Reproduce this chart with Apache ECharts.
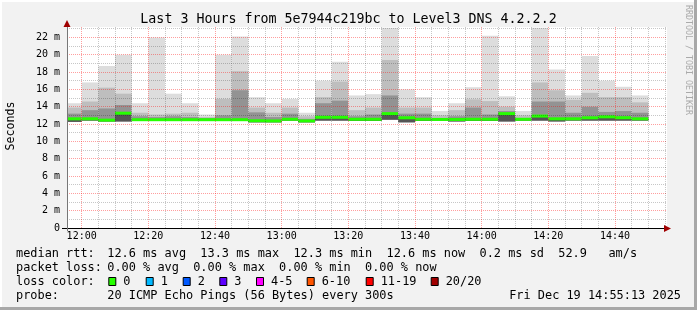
<!DOCTYPE html>
<html>
<head>
<meta charset="utf-8">
<script src="https://cdn.jsdelivr.net/npm/echarts@6/dist/echarts.min.js"></script>
<style>
html,body{margin:0;padding:0;background:#f2f2f2;}
#chart{width:697px;height:310px;}
</style>
</head>
<body>
<div id="chart"></div>
<script>
// ---- data (5-minute steps, values in ms) ----
var barStart = ['11:55','12:00','12:05','12:10','12:15','12:20','12:25','12:30','12:35','12:40',
                '12:45','12:50','12:55','13:00','13:05','13:10','13:15','13:20','13:25','13:30',
                '13:35','13:40','13:45','13:50','13:55','14:00','14:05','14:10','14:15','14:20',
                '14:25','14:30','14:35','14:40','14:45'];
var maxV = [14.4,16.8,18.7,20.0,14.4,22.0,15.5,14.4,13.1,20.0,22.1,15.1,14.4,14.9,13.3,17.0,19.2,15.3,15.45,23.1,
            16.0,15.1,13.5,14.4,16.25,22.2,15.2,13.5,23.1,18.3,15.3,19.85,17.0,16.3,15.3];
var up1V = [13.9,14.6,16.2,15.5,13.3,13.1,13.2,13.3,12.8,14.9,18.1,13.9,13.3,13.9,12.9,15.1,16.9,13.6,13.9,19.4,
            13.9,13.9,13.0,13.6,14.85,14.65,14.0,13.0,16.8,15.9,14.8,15.6,15.1,15.1,14.5];
var up2V = [13.2,13.6,13.8,14.2,12.9,12.8,12.9,12.8,12.7,13.0,15.9,13.35,12.8,13.2,12.6,14.4,14.7,12.9,13.1,15.3,
            13.2,13.2,12.7,12.9,13.9,13.1,13.5,12.7,14.6,14.6,13.3,14.0,13.4,13.5,13.3];
var medV = [12.6,12.6,12.45,13.25,12.5,12.5,12.5,12.5,12.5,12.5,12.5,12.38,12.36,12.55,12.36,12.78,12.78,12.55,12.55,13.2,
            12.72,12.55,12.53,12.53,12.55,12.55,13.2,12.55,12.92,12.6,12.6,12.72,12.83,12.73,12.6];
var minV = [12.25,12.4,12.3,12.3,12.35,12.4,12.35,12.35,12.4,12.35,12.4,12.2,12.2,12.4,12.2,12.4,12.4,12.35,12.35,12.5,
            12.2,12.35,12.4,12.3,12.35,12.35,12.3,12.4,12.4,12.3,12.4,12.4,12.4,12.4,12.4];
var stepMin = 5;
var viewStart = '11:55:36', viewEnd = '14:55:36';

var lossLabels = ['0','1','2','3','4-5','6-10','11-19','20/20'];
var lossColors = ['#26ff00','#00b8ff','#0059ff','#5e00ff','#ff00ff','#ff5500','#ff0000','#a10000'];

var titleText = 'Last 3 Hours from 5e7944c219bc to Level3 DNS 4.2.2.2';
var rttLine = 'median rtt:';
var rttVals = '12.6 ms avg  13.3 ms max  12.3 ms min  12.6 ms now  0.2 ms sd  52.9   am/s';
var lossLine = 'packet loss:';
var lossVals = '0.00 % avg  0.00 % max  0.00 % min  0.00 % now';
var colorLine = 'loss color:';
var probeLine = 'probe:';
var probeVals = '20 ICMP Echo Pings (56 Bytes) every 300s';
var dateText = 'Fri Dec 19 14:55:13 2025';

// ---- helpers ----
function toMin(s){ var p=s.split(':'); return (+p[0]-12)*60 + (+p[1]) + (p[2]?(+p[2])/60:0); }
function fmt(m){ var t=Math.round(m)+720; var h=Math.floor(t/60), mm=t%60; return (h<10?'0':'')+h+':'+(mm<10?'0':'')+mm; }

var data = barStart.map(function(s,i){
  var st = toMin(s);
  return [st, st+stepMin, minV[i], up2V[i], up1V[i], maxV[i], medV[i]];
});

var MONO = '"DejaVu Sans Mono", monospace';
var chart = echarts.init(document.getElementById('chart'), null, {renderer:'canvas'});

function band(api, params, x0, x1, lo, hi, color){
  var p0 = api.coord([x0, hi]), p1 = api.coord([x1, lo]);
  var shape = echarts.graphic.clipRectByRect(
    {x:p0[0], y:p0[1], width:p1[0]-p0[0], height:p1[1]-p0[1]},
    {x:params.coordSys.x, y:params.coordSys.y, width:params.coordSys.width, height:params.coordSys.height});
  if(!shape) return null;
  return {type:'rect', shape:shape, style:{fill:color}};
}

function renderItem(params, api){
  var x0=api.value(0), x1=api.value(1);
  var mn=api.value(2), u2=api.value(3), u1=api.value(4), mx=api.value(5), md=api.value(6);
  var ch = [];
  var b;
  b = band(api, params, x0, x1, mn, mx, '#dddddd'); if(b) ch.push(b);
  b = band(api, params, x0, x1, mn, u1, '#bebebe'); if(b) ch.push(b);
  b = band(api, params, x0, x1, mn, u2, '#939393'); if(b) ch.push(b);
  b = band(api, params, x0, x1, mn, md, '#555555'); if(b) ch.push(b);
  // median line, 3px
  var pa = api.coord([x0, md]), pb = api.coord([x1, md]);
  var ms = echarts.graphic.clipRectByRect(
    {x:pa[0], y:pa[1]-1.5, width:pb[0]-pa[0], height:3},
    {x:params.coordSys.x, y:params.coordSys.y, width:params.coordSys.width, height:params.coordSys.height});
  if(ms) ch.push({type:'rect', shape:ms, style:{fill:lossColors[0]}});
  return {type:'group', children:ch};
}

var gridL=67, gridR=667, gridT=27, gridB=228;
var lx = 16, vx = 107.3;
var boxX = [108.3,145.7,182.7,219.3,256,306.7,365.7,430.7];
var graphics = [
  {type:'rect', shape:{x:0,y:0,width:697,height:2}, style:{fill:'#ffffff'}, z:0, silent:true},
  {type:'rect', shape:{x:0,y:0,width:2,height:310}, style:{fill:'#ffffff'}, z:0, silent:true},
  {type:'rect', shape:{x:0,y:307,width:697,height:3}, style:{fill:'#a8a8a8'}, z:0, silent:true},
  {type:'rect', shape:{x:694,y:0,width:3,height:310}, style:{fill:'#a8a8a8'}, z:0, silent:true},
  // arrows
  {type:'polygon', shape:{points:[[664,225],[671,228.5],[664,232]]}, style:{fill:'#a00000'}, z:10},
  {type:'polygon', shape:{points:[[63.5,27],[67,20],[70.5,27]]}, style:{fill:'#a00000'}, z:10},
  {type:'line', shape:{x1:62,y1:228.5,x2:665,y2:228.5}, style:{stroke:'#000',lineWidth:1}, z:9},
  {type:'line', shape:{x1:67.5,y1:27,x2:67.5,y2:231}, style:{stroke:'#777',lineWidth:1}, z:9},
  // title & unit & watermark
  {type:'text', x:348.5, y:19.5, style:{text:titleText, font:'13.3px '+MONO, fill:'#000', align:'center', verticalAlign:'middle'}},
  {type:'text', x:11, y:126, rotation:Math.PI/2, style:{text:'Seconds', font:'11.6px '+MONO, fill:'#000', align:'center', verticalAlign:'middle'}},
  {type:'text', x:688, y:60, rotation:-Math.PI/2, style:{text:'RRDTOOL / TOBI OETIKER', font:'8.3px '+MONO, fill:'#aaaaaa', align:'center', verticalAlign:'middle'}},
  // legend lines
  {type:'text', x:lx, y:253.5, style:{text:rttLine, font:'11.9px '+MONO, fill:'#000', verticalAlign:'middle'}},
  {type:'text', x:vx, y:253.5, style:{text:rttVals, font:'11.9px '+MONO, fill:'#000', verticalAlign:'middle'}},
  {type:'text', x:lx, y:268, style:{text:lossLine, font:'11.9px '+MONO, fill:'#000', verticalAlign:'middle'}},
  {type:'text', x:vx, y:268, style:{text:lossVals, font:'11.9px '+MONO, fill:'#000', verticalAlign:'middle'}},
  {type:'text', x:lx, y:282, style:{text:colorLine, font:'11.9px '+MONO, fill:'#000', verticalAlign:'middle'}},
  {type:'text', x:lx, y:296.3, style:{text:probeLine, font:'11.9px '+MONO, fill:'#000', verticalAlign:'middle'}},
  {type:'text', x:vx, y:296.3, style:{text:probeVals, font:'11.9px '+MONO, fill:'#000', verticalAlign:'middle'}},
  {type:'text', x:681, y:296.3, style:{text:dateText, font:'11.9px '+MONO, fill:'#000', align:'right', verticalAlign:'middle'}}
];
lossLabels.forEach(function(l,i){
  graphics.push({type:'rect', shape:{x:boxX[i]+0.5,y:277.5,width:7,height:8}, style:{fill:lossColors[i], stroke:'#000', lineWidth:1}});
  graphics.push({type:'text', x:boxX[i]+15, y:282, style:{text:l, font:'11.9px '+MONO, fill:'#000', verticalAlign:'middle'}});
});

var option = {
  animation:false,
  backgroundColor:'#f2f2f2',
  grid:{left:gridL, right:697-gridR, top:gridT, bottom:310-gridB, show:true, backgroundColor:'#ffffff', borderWidth:0},
  xAxis:{
    type:'value', min:toMin(viewStart), max:toMin(viewEnd), minInterval:20, maxInterval:20, z:5,
    axisLine:{show:false}, axisTick:{show:false},
    axisLabel:{show:true, showMinLabel:false, showMaxLabel:false, margin:3, color:'#000', fontFamily:'DejaVu Sans Mono', fontSize:10,
      formatter:function(v){ return (Math.abs(v/20-Math.round(v/20))<1e-6) ? fmt(v) : ''; }},
    splitLine:{show:true, showMinLine:false, showMaxLine:false, lineStyle:{color:'rgba(255,0,0,0.38)', type:[1,1], width:1}},
    minorTick:{show:false, splitNumber:4},
    minorSplitLine:{show:true, lineStyle:{color:'rgba(0,0,0,0.22)', type:[1,1], width:1}}
  },
  yAxis:{
    type:'value', min:0, max:23.2, minInterval:2, maxInterval:2, z:5,
    axisLine:{show:false}, axisTick:{show:false},
    axisLabel:{showMaxLabel:false, margin:7, color:'#000', fontFamily:'DejaVu Sans Mono', fontSize:10,
      formatter:function(v){ if(Math.abs(v/2-Math.round(v/2))>1e-6) return ''; return v===0 ? '0' : v+' m'; }},
    splitLine:{show:true, showMinLine:false, showMaxLine:false, lineStyle:{color:'rgba(255,0,0,0.38)', type:[1,1], width:1}},
    minorTick:{show:false, splitNumber:2},
    minorSplitLine:{show:true, lineStyle:{color:'rgba(0,0,0,0.22)', type:[1,1], width:1}}
  },
  series:[{
    type:'custom', renderItem:renderItem, data:data, z:2,
    encode:{x:[0,1], y:[2,5]}
  }],
  graphic:graphics
};
chart.setOption(option);
</script>
</body>
</html>
